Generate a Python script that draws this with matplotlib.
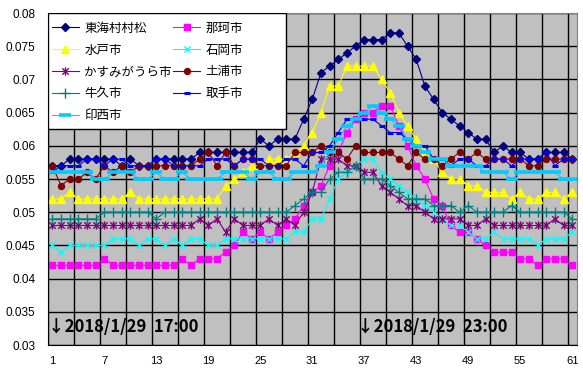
import matplotlib
matplotlib.use("Agg")
import matplotlib.pyplot as plt
import numpy as np
from matplotlib.path import Path
from matplotlib.patches import Rectangle
from matplotlib.ticker import FuncFormatter

plt.rcParams['font.family'] = ['Noto Sans CJK JP', 'DejaVu Sans']

# time index 1..61 (10-minute steps from 2018/1/29 17:00)
x = np.arange(1, 62)

tokai = [0.057, 0.057, 0.058, 0.058, 0.058, 0.058, 0.058, 0.058, 0.057, 0.058,
         0.057, 0.057, 0.058, 0.058, 0.058, 0.058, 0.058, 0.059, 0.059, 0.059,
         0.059, 0.059, 0.059, 0.059, 0.061, 0.060, 0.061, 0.061, 0.061, 0.064,
         0.067, 0.071, 0.072, 0.073, 0.074, 0.075, 0.076, 0.076, 0.076, 0.077,
         0.077, 0.075, 0.073, 0.069, 0.067, 0.065, 0.064, 0.063, 0.062, 0.061,
         0.061, 0.059, 0.060, 0.059, 0.059, 0.058, 0.058, 0.059, 0.059, 0.059,
         0.058]
naka = [0.042, 0.042, 0.042, 0.042, 0.042, 0.042, 0.043, 0.042, 0.042, 0.042,
        0.042, 0.042, 0.042, 0.042, 0.042, 0.043, 0.042, 0.043, 0.043, 0.043,
        0.044, 0.045, 0.047, 0.046, 0.047, 0.046, 0.047, 0.048, 0.049, 0.051,
        0.053, 0.054, 0.057, 0.059, 0.062, 0.064, 0.065, 0.065, 0.066, 0.066,
        0.063, 0.060, 0.057, 0.055, 0.052, 0.051, 0.048, 0.047, 0.047, 0.046,
        0.045, 0.044, 0.044, 0.044, 0.043, 0.043, 0.042, 0.043, 0.043, 0.043,
        0.042]
mito = [0.052, 0.052, 0.053, 0.052, 0.052, 0.052, 0.052, 0.052, 0.052, 0.053,
        0.052, 0.052, 0.052, 0.052, 0.052, 0.052, 0.052, 0.052, 0.052, 0.052,
        0.054, 0.055, 0.056, 0.057, 0.057, 0.058, 0.058, 0.058, 0.059, 0.060,
        0.062, 0.065, 0.069, 0.069, 0.072, 0.072, 0.072, 0.072, 0.070, 0.068,
        0.065, 0.063, 0.061, 0.059, 0.058, 0.056, 0.055, 0.055, 0.054, 0.054,
        0.053, 0.053, 0.053, 0.052, 0.053, 0.052, 0.052, 0.053, 0.053, 0.052,
        0.053]
ishioka = [0.045, 0.044, 0.045, 0.045, 0.045, 0.045, 0.045, 0.046, 0.046, 0.046,
           0.045, 0.046, 0.046, 0.045, 0.046, 0.045, 0.046, 0.046, 0.045, 0.045,
           0.046, 0.046, 0.046, 0.046, 0.046, 0.046, 0.046, 0.046, 0.047, 0.047,
           0.049, 0.049, 0.052, 0.055, 0.056, 0.057, 0.058, 0.058, 0.056, 0.055,
           0.054, 0.053, 0.052, 0.051, 0.050, 0.049, 0.048, 0.048, 0.047, 0.046,
           0.046, 0.047, 0.046, 0.046, 0.046, 0.046, 0.045, 0.046, 0.046, 0.046,
           0.047]
kasumigaura = [0.048, 0.048, 0.048, 0.048, 0.048, 0.048, 0.048, 0.048, 0.048, 0.048,
               0.048, 0.048, 0.048, 0.048, 0.048, 0.048, 0.048, 0.049, 0.048, 0.049,
               0.047, 0.049, 0.048, 0.048, 0.048, 0.049, 0.048, 0.049, 0.048, 0.050,
               0.053, 0.058, 0.058, 0.058, 0.057, 0.057, 0.056, 0.056, 0.054, 0.053,
               0.052, 0.051, 0.051, 0.050, 0.049, 0.049, 0.049, 0.049, 0.048, 0.048,
               0.049, 0.048, 0.048, 0.048, 0.048, 0.048, 0.048, 0.048, 0.049, 0.048,
               0.048]
tsuchiura = [0.057, 0.054, 0.055, 0.055, 0.056, 0.055, 0.057, 0.056, 0.057, 0.056,
             0.057, 0.057, 0.057, 0.057, 0.057, 0.057, 0.057, 0.058, 0.059, 0.057,
             0.059, 0.057, 0.058, 0.058, 0.057, 0.057, 0.057, 0.057, 0.059, 0.059,
             0.059, 0.060, 0.059, 0.059, 0.058, 0.060, 0.059, 0.059, 0.059, 0.059,
             0.058, 0.057, 0.059, 0.058, 0.058, 0.057, 0.058, 0.059, 0.058, 0.059,
             0.058, 0.058, 0.058, 0.058, 0.058, 0.057, 0.057, 0.058, 0.058, 0.058,
             0.058]
ushiku = [0.049, 0.049, 0.049, 0.049, 0.049, 0.049, 0.050, 0.050, 0.050, 0.050,
          0.050, 0.050, 0.049, 0.050, 0.050, 0.050, 0.050, 0.050, 0.050, 0.050,
          0.050, 0.050, 0.050, 0.050, 0.050, 0.050, 0.050, 0.050, 0.051, 0.052,
          0.053, 0.053, 0.055, 0.056, 0.056, 0.057, 0.055, 0.055, 0.055, 0.054,
          0.053, 0.052, 0.052, 0.052, 0.051, 0.051, 0.051, 0.050, 0.051, 0.050,
          0.050, 0.050, 0.050, 0.051, 0.050, 0.050, 0.050, 0.050, 0.050, 0.050,
          0.049]
toride = [0.056, 0.057, 0.057, 0.057, 0.058, 0.058, 0.057, 0.058, 0.058, 0.057,
          0.057, 0.057, 0.058, 0.058, 0.057, 0.057, 0.057, 0.057, 0.058, 0.058,
          0.058, 0.057, 0.058, 0.058, 0.058, 0.057, 0.057, 0.058, 0.058, 0.057,
          0.059, 0.059, 0.060, 0.062, 0.064, 0.064, 0.064, 0.064, 0.063, 0.062,
          0.062, 0.061, 0.060, 0.060, 0.058, 0.058, 0.057, 0.058, 0.058, 0.057,
          0.057, 0.058, 0.058, 0.057, 0.058, 0.058, 0.058, 0.059, 0.057, 0.058,
          0.058]
inzai = [0.056, 0.056, 0.056, 0.056, 0.056, 0.055, 0.055, 0.056, 0.056, 0.056,
         0.055, 0.055, 0.056, 0.055, 0.055, 0.056, 0.055, 0.055, 0.055, 0.055,
         0.056, 0.056, 0.056, 0.055, 0.056, 0.056, 0.055, 0.055, 0.056, 0.056,
         0.056, 0.057, 0.059, 0.061, 0.063, 0.064, 0.065, 0.066, 0.065, 0.064,
         0.063, 0.061, 0.060, 0.059, 0.058, 0.058, 0.057, 0.057, 0.057, 0.057,
         0.056, 0.056, 0.056, 0.055, 0.056, 0.056, 0.056, 0.056, 0.056, 0.055,
         0.055]

names = ['東海村村松', '那珂市', '水戸市', '石岡市', 'かすみがうら市',
         '土浦市', '牛久市', '取手市', '印西市']
series = [tokai, naka, mito, ishioka, kasumigaura, tsuchiura, ushiku, toride, inzai]

# excel style star marker (x with a vertical bar)
star = Path([(-1, -1), (1, 1), (-1, 1), (1, -1), (0, -1.3), (0, 1.3)],
            [Path.MOVETO, Path.LINETO, Path.MOVETO, Path.LINETO, Path.MOVETO, Path.LINETO])

styles = [
    dict(color='#000080', marker='D', ms=4),
    dict(color='#FF00FF', marker='s', ms=5),
    dict(color='#FFFF00', marker='^', ms=6),
    dict(color='#00FFFF', marker='x', ms=5, mew=1),
    dict(color='#800080', marker=star, ms=6, mew=1),
    dict(color='#800000', marker='o', ms=4.3),
    dict(color='#008080', marker='+', ms=7, mew=1),
    dict(color='#0000FF', marker='_', ms=5, mew=2.2),
    dict(color='#00CCFF', marker='_', ms=8, mew=2.6),
]

fig = plt.figure(figsize=(5.83, 3.78), dpi=100)
ax = fig.add_axes([48 / 583, 33 / 378, 528.5 / 583, 332 / 378])
ax.set_facecolor('#C0C0C0')

lines = []
for name, vals, st in zip(names, series, styles):
    ln, = ax.plot(x, vals, lw=0.8, label=name, **st)
    lines.append(ln)

ax.set_xlim(0.5, 61.5)
ax.set_ylim(0.03, 0.08)
ax.set_xticks(np.arange(1, 62, 6))
ax.set_xticks(np.arange(0.5, 61, 3), minor=True)
ax.set_yticks(np.arange(0.03, 0.0801, 0.005))
ax.yaxis.set_major_formatter(FuncFormatter(lambda v, p: '%g' % round(v, 4)))
ax.grid(which='minor', axis='x', color='black', lw=1)
ax.grid(which='major', axis='y', color='black', lw=1)
ax.set_axisbelow(True)
ax.tick_params(which='both', length=0)
ax.tick_params(axis='x', pad=8, labelsize=8)
ax.tick_params(axis='y', pad=9, labelsize=8.5)
for lab in ax.get_xticklabels() + ax.get_yticklabels():
    lab.set_fontfamily('Liberation Sans')
for s in ['left', 'bottom']:
    ax.spines[s].set_color('black')
for s in ['right', 'top']:
    ax.spines[s].set_color('#808080')

ax.text(0.55, 0.0327, '↓2018/1/29  17:00', fontsize=12, fontweight='bold',
        va='center', ha='left')
ax.text(36.2, 0.0327, '↓2018/1/29  23:00', fontsize=12, fontweight='bold',
        va='center', ha='left')

# legend box (excel draws it wider than the entries)
box = Rectangle((0, 1), 238 / 528.5, -116 / 332, transform=ax.transAxes,
                facecolor='white', edgecolor='black', lw=1, zorder=5)
ax.add_patch(box)
order = [0, 2, 4, 6, 8, 1, 3, 5, 7]
leg = ax.legend([lines[i] for i in order], [names[i] for i in order],
                ncol=2, loc='upper left', bbox_to_anchor=(-0.009, 1), borderaxespad=0,
                frameon=False, fontsize=9, handlelength=2.2, handletextpad=0.4,
                columnspacing=0.1, labelspacing=0.72, borderpad=0.68)
leg.set_zorder(6)

fig.savefig('out.png', dpi=100)
